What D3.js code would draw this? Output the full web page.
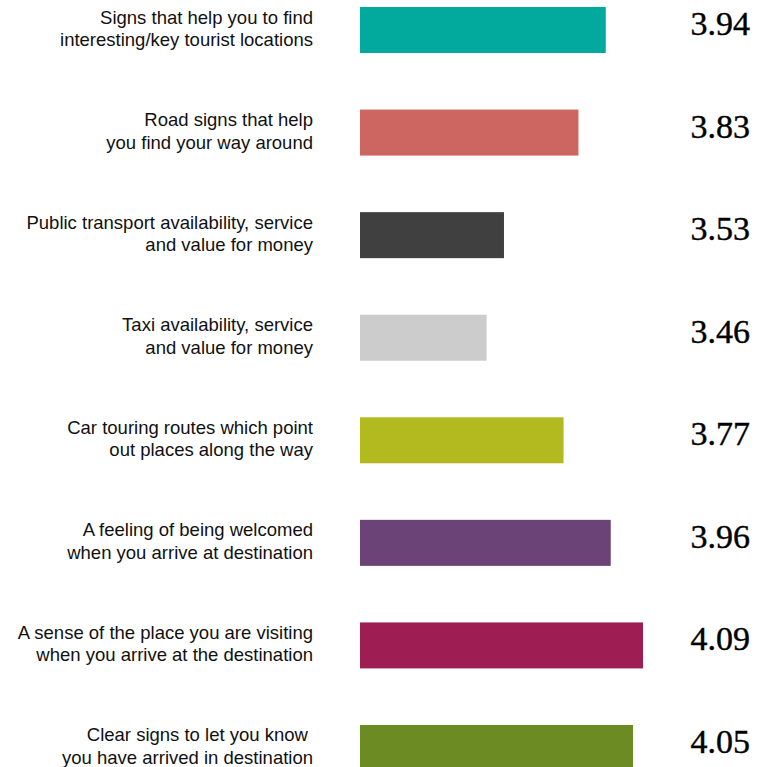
<!DOCTYPE html>
<html>
<head>
<meta charset="utf-8">
<script src="https://cdn.jsdelivr.net/npm/d3@7"></script>
<style>
    body { margin: 0; background: #fff; }
    svg { display: block; }
</style>
</head>
<body>
<div id="chart"></div>
<script>
// data
const categories = [
    ["Signs that help you to find", "interesting/key tourist locations"],
    ["Road signs that help", "you find your way around"],
    ["Public transport availability, service", "and value for money"],
    ["Taxi availability, service", "and value for money"],
    ["Car touring routes which point", "out places along the way"],
    ["A feeling of being welcomed", "when you arrive at destination"],
    ["A sense of the place you are visiting", "when you arrive at the destination"],
    ["Clear signs to let you know ", "you have arrived in destination"]
];
const values = [3.94, 3.83, 3.53, 3.46, 3.77, 3.96, 4.09, 4.05];
const colors = ["#02aa9e", "#cd6660", "#404040", "#cccccc", "#b2ba1f", "#6b4377", "#9e1e54", "#6d8b23"];

const W = 766, H = 767;

const svg = d3.select("#chart")
    .append("svg")
    .attr("width", W)
    .attr("height", H);

const keys = d3.range(values.length);

const y = d3.scaleBand()
    .domain(keys)
    .range([7, 771])
    .paddingInner(0.5515)
    .paddingOuter(0);

const x = d3.scaleLinear()
    .domain([2.95, 4.09])
    .range([360, 643]);

// bars
svg.selectAll(".bar")
    .data(keys)
    .enter()
    .append("rect")
    .attr("class", "bar")
    .attr("x", x(2.95))
    .attr("y", (i) => y(i))
    .attr("width", (i) => x(values[i]) - x(2.95))
    .attr("height", y.bandwidth())
    .style("fill", (i) => colors[i]);

// category labels, two lines each
let labels = svg.selectAll(".label")
    .data(keys)
    .enter()
    .append("text")
    .attr("class", "label")
    .attr("text-anchor", "end")
    .style("font-family", "'Liberation Sans', Arial, sans-serif")
    .style("font-size", "18.5px")
    .style("fill", "#111")
    .style("white-space", "pre");

labels.each(function(i) {
    let t = d3.select(this);
    categories[i].forEach((line, k) => {
        t.append("tspan")
            .attr("x", 313)
            .attr("y", y(i) + 16.5 + k * 22.5)
            .text(line);
    });
});

// value labels
svg.selectAll(".value")
    .data(keys)
    .enter()
    .append("text")
    .attr("class", "value")
    .attr("text-anchor", "end")
    .attr("x", 750)
    .attr("y", (i) => y(i) + 28)
    .style("font-family", "'Liberation Serif', 'Times New Roman', serif")
    .style("font-size", "34px")
    .style("fill", "#000")
    .style("stroke", "#000")
    .style("stroke-width", 0.4)
    .text((i) => values[i].toFixed(2));
</script>
</body>
</html>
